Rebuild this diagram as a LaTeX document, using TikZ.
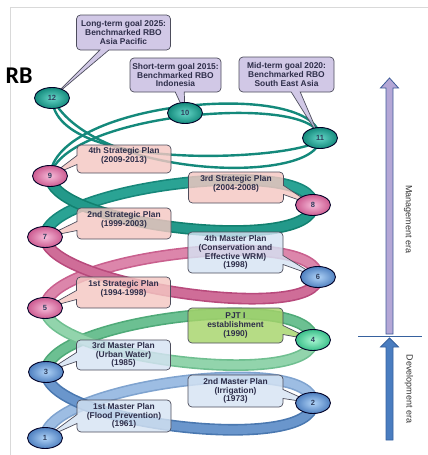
\documentclass[tikz,border=0pt]{standalone}
\usepackage{fontspec}
\setmainfont{Liberation Sans}
\newfontfamily\rbfont{Carlito}
\usetikzlibrary{shapes.callouts,shapes.geometric}
\pgfdeclarelayer{bands}
\pgfdeclarelayer{boxes}
\pgfsetlayers{bands,boxes,main}

\definecolor{frameC}{HTML}{D9D9D9}
\definecolor{numTxt}{HTML}{2E3D5C}
\definecolor{boxTxt}{HTML}{2E2E4A}
\definecolor{boxEdge}{HTML}{4D4D5C}
\definecolor{goalFill}{HTML}{C7BCE0}
\definecolor{stratFill}{HTML}{F4C7C2}
\definecolor{planFill}{HTML}{D5E3F3}
\definecolor{pjtFill}{HTML}{A6D46A}
% bands
\definecolor{bBe}{HTML}{7FA3CF}\definecolor{bBi}{HTML}{9DBDE3}
\definecolor{bFe}{HTML}{4A78B0}\definecolor{bFi}{HTML}{6A96CC}
\definecolor{gBe}{HTML}{4FAA78}\definecolor{gBi}{HTML}{6CC092}
\definecolor{gFe}{HTML}{6FBF90}\definecolor{gFi}{HTML}{92D4AC}
\definecolor{pBe}{HTML}{C9608E}\definecolor{pBi}{HTML}{DC86AB}
\definecolor{pFe}{HTML}{B84A7C}\definecolor{pFi}{HTML}{CF6D98}
\definecolor{tBe}{HTML}{17877A}\definecolor{tBi}{HTML}{2AA394}
\definecolor{tFe}{HTML}{12806F}\definecolor{tFi}{HTML}{23998A}
\definecolor{strandC}{HTML}{14897B}
% node shades
\definecolor{nbIn}{HTML}{B0D3F7}\definecolor{nbOut}{HTML}{4F80C0}
\definecolor{npIn}{HTML}{F6BCD9}\definecolor{npOut}{HTML}{CC5A90}
\definecolor{ntIn}{HTML}{66D6C8}\definecolor{ntOut}{HTML}{138A7C}
\definecolor{ngIn}{HTML}{A8F6D2}\definecolor{ngOut}{HTML}{3BBF8A}
% arrows
\definecolor{upFill}{HTML}{B4A7D6}\definecolor{upEdge}{HTML}{3E5C99}
\definecolor{dnFill}{HTML}{4A7DC0}\definecolor{dnEdge}{HTML}{36619E}
\definecolor{eraTxt}{HTML}{333333}

\tikzset{
  num/.style={ellipse,draw=black!85!blue,line width=0.9pt,minimum width=35pt,minimum height=21pt,inner sep=0pt,font=\fontsize{7.5}{7.5}\selectfont\bfseries,text=numTxt},
  nblue/.style={num,inner color=nbIn,outer color=nbOut},
  npink/.style={num,inner color=npIn,outer color=npOut},
  nteal/.style={num,inner color=ntIn,outer color=ntOut},
  ngreen/.style={num,inner color=ngIn,outer color=ngOut},
  band/.style={line width=1.6pt,double distance=8.5pt},
  strand/.style={draw=strandC,line width=2.4pt},
  callbox/.style={rectangle callout,rounded corners=4pt,draw=boxEdge,line width=0.7pt,fill opacity=0.82,text opacity=1,font=\fontsize{8.4}{8.7}\selectfont\bfseries,text=boxTxt,align=center,inner sep=1pt,callout pointer width=9pt},
  leftbox/.style={callbox,minimum width=94pt},
  rightbox/.style={callbox,minimum width=95pt},
  era/.style={rotate=-90,font=\fontsize{9}{9}\selectfont,text=eraTxt}
}

\begin{document}
\begin{tikzpicture}[x=1pt,y=-1pt]
\useasboundingbox (0,0) rectangle (428,455);

% frame
\draw[frameC,line width=0.8pt] (10.5,455) -- (10.5,7) -- (428,7);

% numbered nodes
\node[nblue] (n1) at (45,438) {1};
\node[nblue] (n2) at (313,403) {2};
\node[nblue] (n3) at (46,372) {3};
\node[ngreen] (n4) at (313,340) {4};
\node[npink] (n5) at (45,308) {5};
\node[nblue] (n6) at (318,277) {6};
\node[npink] (n7) at (45,237) {7};
\node[npink] (n8) at (313,205) {8};
\node[npink] (n9) at (50,176) {9};
\node[nteal] (n10) at (185,113) {10};
\node[nteal] (n11) at (320,138) {11};
\node[nteal] (n12) at (52,98) {12};

\begin{pgfonlayer}{bands}
% back arcs
\draw[band,draw=bBe,double=bBi] (n1.center) .. controls +(0,-52) and +(0,-52) .. (n2.center);
\draw[band,draw=gBe,double=gBi] (n3.center) .. controls +(0,-52) and +(0,-52) .. (n4.center);
\draw[band,draw=pBe,double=pBi] (n5.center) .. controls +(0,-52) and +(0,-52) .. (n6.center);
\draw[band,draw=tBe,double=tBi] (n7.center) .. controls +(0,-50) and +(0,-50) .. (n8.center);
% top back strands
\draw[strand] (n9.center) .. controls (55,100) and (318,78) .. (n11.center);
\draw[strand] (n9.center) .. controls (65,112) and (318,92) .. (n11.center);
% front arcs
\draw[band,draw=bFe,double=bFi] (n2.center) .. controls +(0,52) and +(0,52) .. (n3.center);
\draw[band,draw=gFe,double=gFi] (n4.center) .. controls +(0,50) and +(0,50) .. (n5.center);
\draw[band,draw=pFe,double=pFi] (n6.center) .. controls +(0,48) and +(0,48) .. (n7.center);
\draw[band,draw=tFe,double=tFi] (n8.center) .. controls +(0,50) and +(0,50) .. (n9.center);
% top front strands
\draw[strand] (n11.center) .. controls (320,158) and (55,178) .. (n12.center);
\draw[strand] (n11.center) .. controls (320,185) and (95,180) .. (n12.center);
\end{pgfonlayer}

\begin{pgfonlayer}{boxes}
\node[leftbox,fill=goalFill,minimum height=35pt,callout absolute pointer={(n12.center)}] (lt) at (123.5,32.5) {Long-term goal 2025:\\Benchmarked RBO\\Asia Pacific};
\node[callbox,fill=goalFill,minimum width=91pt,minimum height=34pt,callout absolute pointer={(n10.center)}] (st) at (175.5,75) {Short-term goal 2015:\\Benchmarked RBO\\Indonesia};
\node[rightbox,fill=goalFill,minimum height=35pt,callout absolute pointer={(n11.center)}] (mt) at (286.5,74.5) {Mid-term goal 2020:\\Benchmarked RBO\\South East Asia};
\node[leftbox,fill=stratFill,minimum height=28pt,callout absolute pointer={(n9.center)}] (s4) at (124,159) {4th Strategic Plan\\(2009-2013)\\~};
\node[rightbox,fill=stratFill,minimum height=31pt,callout absolute pointer={(n8.center)}] (s3) at (236,187.5) {3rd Strategic Plan\\(2004-2008)\\~};
\node[leftbox,fill=stratFill,minimum height=31pt,callout absolute pointer={(n7.center)}] (s2) at (124,223.5) {2nd Strategic Plan\\(1999-2003)\\~};
\node[rightbox,fill=planFill,minimum height=41pt,callout absolute pointer={(n6.center)}] (m4) at (235.5,252.5) {4th Master Plan\\(Conservation and\\Effective WRM)\\(1998)};
\node[leftbox,fill=stratFill,minimum height=31pt,callout absolute pointer={(n5.center)}] (s1) at (123.5,292.5) {1st Strategic Plan\\(1994-1998)\\~};
\node[rightbox,fill=pjtFill,minimum height=35pt,callout absolute pointer={(n4.center)}] (pjt) at (235.5,325.5) {PJT I\\establishment\\(1990)};
\node[leftbox,fill=planFill,minimum height=30pt,callout absolute pointer={(n3.center)}] (m3) at (123.5,355) {3rd Master Plan\\(Urban Water)\\(1985)};
\node[rightbox,fill=planFill,minimum height=32pt,callout absolute pointer={(n2.center)}] (m2) at (235.5,391) {2nd Master Plan\\(Irrigation)\\(1973)};
\node[leftbox,fill=planFill,minimum height=32pt,callout absolute pointer={(n1.center)}] (m1) at (124,416) {1st Master Plan\\(Flood Prevention)\\(1961)};
\end{pgfonlayer}

% RB label
\node[font=\rbfont\bfseries\fontsize{24}{24}\selectfont,inner sep=0pt] (rb) at (19,75.5) {RB};

% era arrows
\draw[fill=upFill,draw=upEdge,line width=0.8pt] (386,334) -- (386,88) -- (380.5,88) -- (389.5,78) -- (398.5,88) -- (393,88) -- (393,334) -- cycle;
\draw[fill=dnFill,draw=dnEdge,line width=0.8pt] (386,440) -- (386,347) -- (380.5,347) -- (389.5,338) -- (398.5,347) -- (393,347) -- (393,440) -- cycle;
\coordinate (sepL) at (358,336);
\coordinate (sepR) at (422,336);
\draw[dnEdge,line width=0.7pt] (sepL) -- (sepR);
\node[era] (mera) at (408,219.5) {Management era};
\node[era] (dera) at (409,389) {Development era};
\end{tikzpicture}
\end{document}
